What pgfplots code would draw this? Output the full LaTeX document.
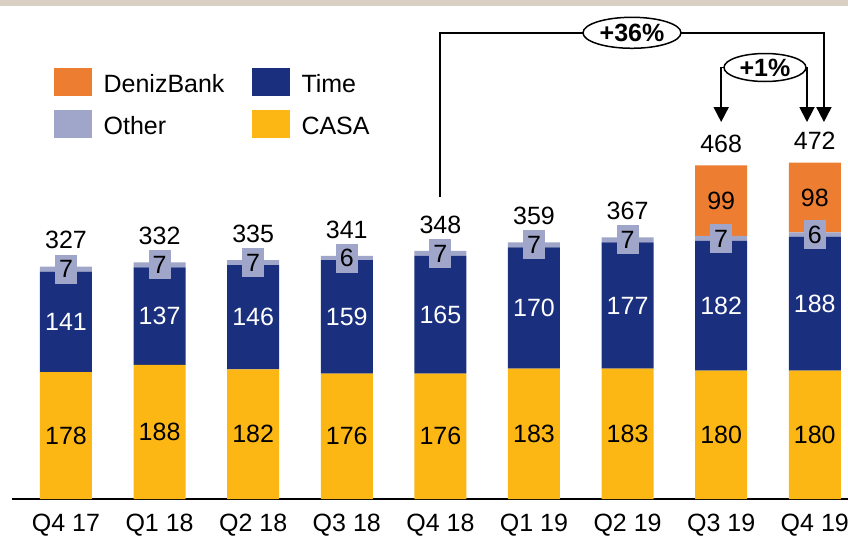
\documentclass[border=0pt]{standalone}
\usepackage{fontspec}
\setmainfont{Liberation Sans}
\usepackage{pgfplots}
\usepackage{pgfplotstable}
\pgfplotsset{compat=1.18}
\usetikzlibrary{arrows.meta,shapes.geometric}
\definecolor{casa}{HTML}{FDB714}
\definecolor{timec}{HTML}{1A2F7D}
\definecolor{other}{HTML}{A0A6CA}
\definecolor{deniz}{HTML}{ED7D31}
\definecolor{beige}{HTML}{D9D0C3}
\newcommand\fs{\fontsize{25bp}{30bp}\selectfont}
\pgfplotstableread{
x casa time other deniz total
0 178 141 7 0 327
1 188 137 7 0 332
2 182 146 7 0 335
3 176 159 6 0 341
4 176 165 7 0 348
5 183 170 7 0 359
6 183 177 7 0 367
7 180 182 7 99 468
8 180 188 6 98 472
}\data
\pgfplotsset{
  base/.style={scale only axis, width=836bp, height=499bp, xmin=-0.5769, xmax=8.355, ymin=0, ymax=700, clip=false},
  sq/.style={fill=#1, draw=none, legend image code/.code={\fill[fill=#1] (0bp,-12.5bp) rectangle (38bp,15.5bp);}},
  lab/.style={draw=none, mark=none, nodes near coords, point meta=explicit symbolic,
    every node near coord/.append style={font=\fs, anchor=center, inner sep=0pt, #1}},
}
\begin{document}
\begin{tikzpicture}
\useasboundingbox (-12bp,-38bp) rectangle (836bp,499bp);
\begin{axis}[base, ybar stacked, bar width=52bp,
  axis x line*=bottom, axis y line=none, x axis line style={line width=1.5bp, black},
  xtick={0,...,8}, xticklabels={Q4 17,Q1 18,Q2 18,Q3 18,Q4 18,Q1 19,Q2 19,Q3 19,Q4 19},
  major tick length=0pt, xtick style={draw=none},
  xticklabel style={font=\fs, anchor=base, yshift=-32.7bp, inner sep=0pt},
  legend columns=2,
  legend style={draw=none, fill=none, inner sep=0pt, outer sep=0pt,
     at={(axis description cs:0.05024,0.8631)}, anchor=north west,
     nodes={inner sep=0pt, text depth=0pt, text height=18bp, font=\fs}, cells={anchor=west},
     /tikz/every odd column/.style={column sep=11.6bp},
     /tikz/every even column/.style={column sep=27.4bp}, row sep=13.7bp},
]
\addlegendimage{sq=deniz}\addlegendentry{DenizBank}
\addlegendimage{sq=timec}\addlegendentry{Time}
\addlegendimage{sq=other}\addlegendentry{Other}
\addlegendimage{sq=casa}\addlegendentry{CASA}
\addplot[fill=casa, draw=none, forget plot] table[x=x,y=casa]{\data};
\addplot[fill=timec, draw=none, forget plot] table[x=x,y=time]{\data};
\addplot[fill=other, draw=none, forget plot] table[x=x,y=other]{\data};
\addplot[fill=deniz, draw=none, forget plot] table[x=x,y=deniz]{\data};
\end{axis}
\begin{axis}[base, hide axis]
\addplot[lab={text=black}] table[x=x, y expr=\thisrow{casa}/2, meta=casa]{\data};
\addplot[lab={text=white}] table[x=x, y expr=\thisrow{casa}+\thisrow{time}/2, meta=time]{\data};
\addplot[lab={text=black, fill=other, minimum width=22bp, minimum height=29bp}] table[x=x, y expr=\thisrow{casa}+\thisrow{time}+\thisrow{other}/2, meta=other]{\data};
\addplot[lab={text=black}, skip coords between index={0}{7}] table[x=x, y expr=\thisrow{casa}+\thisrow{time}+\thisrow{other}+\thisrow{deniz}/2, meta=deniz]{\data};
\addplot[lab={text=black, anchor=base, yshift=17.7bp}, skip coords between index={7}{9}] table[x=x, y expr=\thisrow{casa}+\thisrow{time}+\thisrow{other}+\thisrow{deniz}, meta=total]{\data};
\addplot[lab={text=black, anchor=base, yshift=13bp}, skip coords between index={0}{7}] table[x=x, y expr=\thisrow{casa}+\thisrow{time}+\thisrow{other}+\thisrow{deniz}, meta=total]{\data};
\draw[line width=1.8bp, line join=miter, -{Triangle[width=15bp,length=15bp]}] (axis cs:4,423.6) |- (axis cs:8.098,654) -- (axis cs:8.098,528.8);
\draw[line width=1.8bp, -{Triangle[width=15bp,length=15bp]}] (axis cs:7.468,605.3) -| (axis cs:7.0,528.8);
\draw[line width=1.8bp, -{Triangle[width=15bp,length=15bp]}] (axis cs:7.468,605.3) -| (axis cs:7.917,528.8);
\node[ellipse, draw, line width=1.5bp, fill=white, minimum width=98bp, minimum height=31bp, inner sep=0pt, font=\fs\bfseries] at (axis cs:6.047,654) {+36\%};
\node[ellipse, draw, line width=1.5bp, fill=white, minimum width=82bp, minimum height=28bp, inner sep=0pt, font=\fs\bfseries] at (axis cs:7.468,605.3) {+1\%};
\end{axis}
\fill[beige] (-12bp,493bp) rectangle (836bp,499bp);
\end{tikzpicture}
\end{document}
